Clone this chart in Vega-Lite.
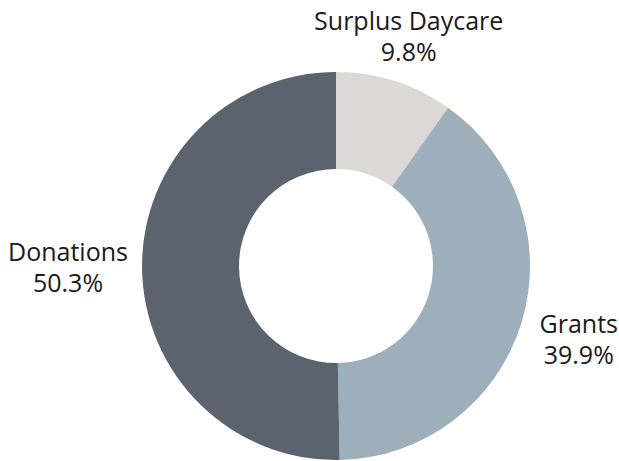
{
  "$schema": "https://vega.github.io/schema/vega-lite/v6.json",
  "width": 566,
  "height": 390,
  "autosize": {"type": "none"},
  "padding": {"left": 53, "top": 71, "right": 0, "bottom": 0},
  "background": "white",
  "config": {"view": {"stroke": null}, "font": "Open Sans"},
  "data": {
    "values": [
      {"category": "Surplus Daycare", "value": 0.098, "order": 1},
      {"category": "Grants", "value": 0.399, "order": 2},
      {"category": "Donations", "value": 0.503, "order": 3}
    ]
  },
  "encoding": {
    "theta": {"field": "value", "type": "quantitative", "stack": true},
    "order": {"field": "order", "type": "quantitative"}
  },
  "layer": [
    {
      "mark": {"type": "arc", "innerRadius": 97, "outerRadius": 194},
      "encoding": {
        "color": {
          "field": "category",
          "type": "nominal",
          "scale": {
            "domain": ["Surplus Daycare", "Grants", "Donations"],
            "range": ["#dad9d7", "#9eafbc", "#5b636f"]
          },
          "legend": null
        }
      }
    },
    {
      "mark": {"type": "text", "fontSize": 25, "font": "Open Sans", "color": "#1a1a1a", "baseline": "middle", "align": "center", "dy": -15.5},
      "encoding": {
        "radius": {
          "field": "value",
          "type": "quantitative",
          "scale": {"domain": [0.098, 0.399, 0.503], "range": [240, 254, 268], "zero": false, "nice": false}
        },
        "text": {"field": "category", "type": "nominal"}
      }
    },
    {
      "mark": {"type": "text", "fontSize": 25, "font": "Open Sans", "color": "#1a1a1a", "baseline": "middle", "align": "center", "dy": 15.5},
      "encoding": {
        "radius": {
          "field": "value",
          "type": "quantitative",
          "scale": {"domain": [0.098, 0.399, 0.503], "range": [240, 254, 268], "zero": false, "nice": false}
        },
        "text": {"field": "value", "type": "quantitative", "format": ".1%"}
      }
    }
  ]
}
